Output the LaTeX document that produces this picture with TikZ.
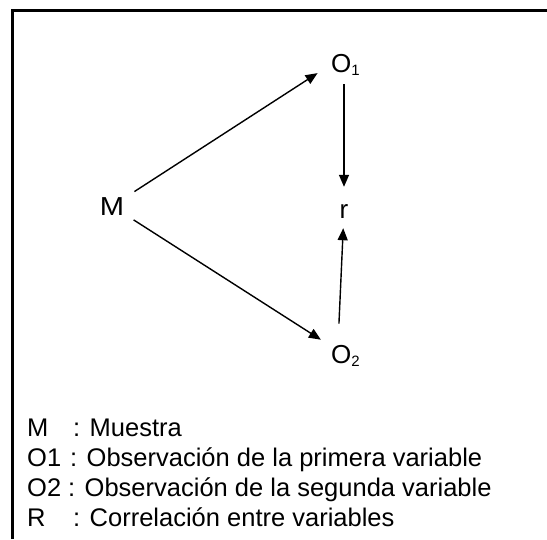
\documentclass[tikz,border=0pt]{standalone}
\usepackage{fontspec}
\setmainfont{Liberation Sans}
\usetikzlibrary{arrows.meta}
\newcommand{\lowsub}[1]{\raisebox{-3pt}{\fontsize{15}{15}\selectfont #1}}
\begin{document}
\begin{tikzpicture}[x=1pt,y=-1pt,
  lbl/.style={inner sep=0pt, font=\fontsize{26}{30}\selectfont},
  leg/.style={inner sep=0pt, anchor=base west, font=\fontsize{25.5}{30}\selectfont},
  arr/.style={-{Triangle[length=12pt,width=10pt]}, line width=1.4pt},
  frame/.style={line width=2.5pt}]
\useasboundingbox (0,0) rectangle (547,539);
% frame
\draw[frame] (12.5,539) -- (12.5,10.5) -- (547,10.5);
% nodes
\node[lbl, anchor=base] (M) at (112,215) {\scalebox{1.12}[1]{M}};
\node[lbl, anchor=base west] (O1) at (331,72) {O\lowsub{1}};
\node[lbl, anchor=base west] (O2) at (331,363) {O\lowsub{2}};
\node[lbl, anchor=base] (r) at (344,218) {r};
% connectors
\draw[arr, shorten <=12pt, shorten >=16pt] (M) -- (O1.west);
\draw[arr, shorten <=11pt, shorten >=12pt] (M) -- (O2);
\draw[arr, shorten <=9pt, shorten >=17pt] (r |- O1.south) -- (r);
\draw[arr, shorten <=21pt, shorten >=10pt] ([xshift=7pt]O2.north west) -- (r);
% legend
\node[leg] (l1) at (27,436) {\makebox[46pt][l]{M}: Muestra};
\node[leg] (l2) at (27,466) {\makebox[43pt][l]{O1}: Observación de la primera variable};
\node[leg] (l3) at (27,496) {\makebox[41pt][l]{O2}: Observación de la segunda variable};
\node[leg] (l4) at (27,526) {\makebox[46pt][l]{R}: Correlación entre variables};
\end{tikzpicture}
\end{document}
